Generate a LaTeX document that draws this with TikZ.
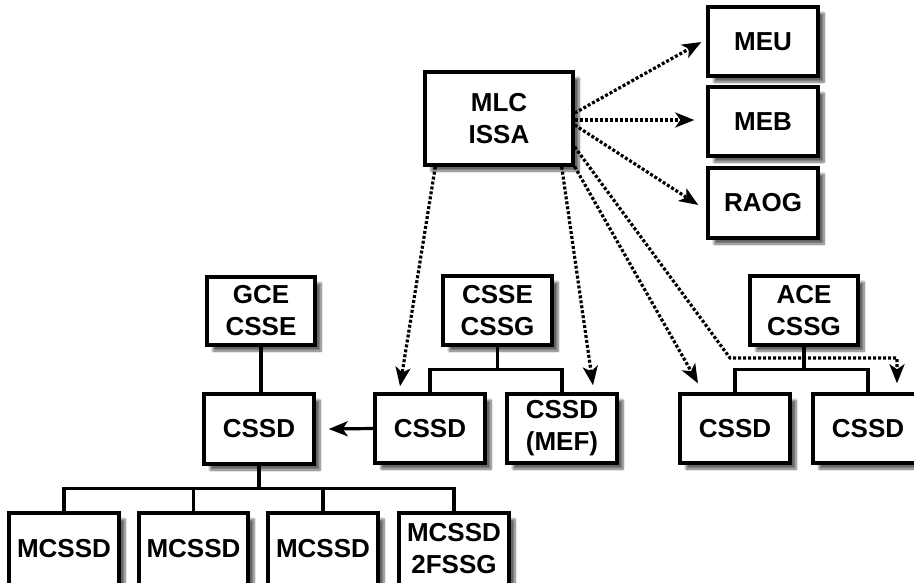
\documentclass[tikz,border=0pt]{standalone}
\usepackage{fontspec}
\setmainfont{Liberation Sans}
\usetikzlibrary{arrows.meta,calc,shadows.blur}

\begin{document}
\begin{tikzpicture}[x=1pt,y=-1pt,
  box/.style={draw=black, line width=3.4pt, fill=white, align=center, inner sep=0pt,
    font=\fontsize{26}{32}\selectfont\bfseries,
    minimum width=110pt, minimum height=69pt,
    blur shadow={shadow xshift=6pt, shadow yshift=-6pt, shadow blur steps=8, shadow opacity=60}},
  tree/.style={line width=3.2pt},
  tip/.style={-{Stealth[length=19pt,width=15pt,inset=5pt]}},
  dotarrow/.style={tip, line width=3.2pt, dash pattern=on 3pt off 2pt},
  solidarrow/.style={tip, line width=3.2pt}
]
\useasboundingbox (0,0) rectangle (914,582);

% top unit and its three advisers
\node[box, minimum width=148pt, minimum height=93pt] (mlc) at (499,118.5) {MLC\\ISSA};
\node[box] (meu)  at (763,41.5) {MEU};
\node[box] (meb)  at (763,121.5) {MEB};
\node[box, minimum height=70pt] (raog) at (763,203) {RAOG};

% the three commands
\node[box, minimum width=108pt, minimum height=68pt] (gce) at (261,311) {GCE\\CSSE};
\node[box, minimum width=109pt] (csse) at (497.5,310.5) {CSSE\\CSSG};
\node[box, minimum width=108pt] (ace) at (804,310.5) {ACE\\CSSG};

% subordinate CSSDs
\node[box, minimum height=70pt] (cssdL) at (259,429) {CSSD};
\node[box] (cssdM) at (430,428.5) {CSSD};
\node[box] (mef)   at (562,428.5) {CSSD\\(MEF)};
\node[box] (cssdA) at (735,428.5) {CSSD};
\node[box] (cssdB) at (868,428.5) {CSSD};

% bottom row
\node[box, minimum height=72pt] (mc1) at (64,549) {MCSSD};
\node[box, minimum height=72pt, minimum width=109pt] (mc2) at (193.5,549) {MCSSD};
\node[box, minimum height=72pt] (mc3) at (323,549) {MCSSD};
\node[box, minimum height=72pt] (mc4) at (454,549) {MCSSD\\2FSSG};

% solid hierarchy lines
\draw[tree] (gce.south) -- (gce.south |- cssdL.north);
\draw[tree] (cssdL.south) -- ++(0,23) coordinate (lb);
\draw[tree] (mc1.north) |- (lb) -| (mc4.north);
\draw[tree] (mc2.north) -- (mc2.north |- lb);
\draw[tree] (mc3.north) -- (mc3.north |- lb);

\draw[tree] (csse.south) -- ++(0,23) coordinate (cb);
\draw[tree] (cssdM.north) |- (cb) -| (mef.north);

\draw[tree] (ace.south) -- ++(0,23) coordinate (ab);
\draw[tree] (cssdA.north) |- (ab) -| (cssdB.north);

\draw[solidarrow] (cssdM.west) -- ($(cssdL.east)+(13,0)$);

% dotted lines of coordination from MLC ISSA
\draw[dotarrow] ($(mlc.east)+(0,-5.5)$) -- ($(meu.west)+(-5,0.5)$);
\draw[dotarrow] ($(mlc.east)+(0,1.5)$) -- ($(meb.west)+(-12,-1.5)$);
\draw[dotarrow] ($(mlc.east)+(0,6.5)$) -- ($(raog.west)+(-8,2)$);
\draw[dotarrow] ($(mlc.south west)+(12,0)$) -- ($(cssdM.north)+(-30,-6)$);
\draw[dotarrow] ($(mlc.south east)+(-13,0)$) -- ($(mef.north)+(31,-7)$);
\draw[dotarrow] (mlc.south east) -- ($(cssdA.north)+(-37,-9)$);
\coordinate (btip) at ($(cssdB.north)+(29,-9)$);
\draw[dotarrow] ($(mlc.east)+(0,28.5)$) -- (730,358) coordinate (bend)
  -- (bend -| btip) -- (btip);
\end{tikzpicture}
\end{document}
